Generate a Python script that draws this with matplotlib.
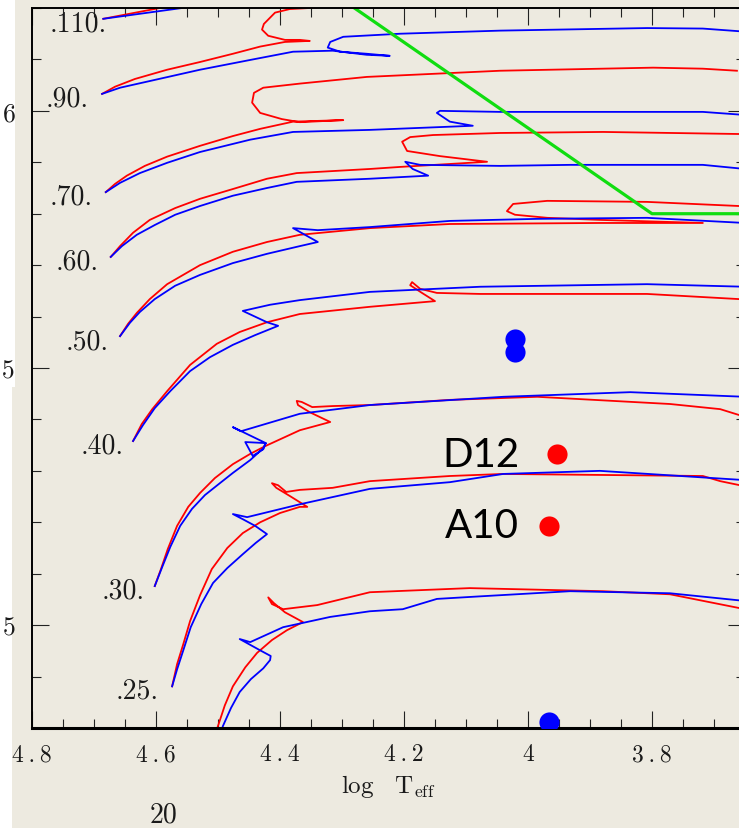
import matplotlib
matplotlib.use('Agg')
import matplotlib.pyplot as plt
from matplotlib.patches import Rectangle
from matplotlib.ticker import MultipleLocator

# initial-mass labels at the ZAMS end of each track
mass_labels = ['.110.', '.90.', '.70.', '.60.', '.50.', '.40.', '.30.', '.25.']
label_T = [4.679, 4.708, 4.702, 4.692, 4.677, 4.653, 4.619, 4.595]
label_L = [6.156, 6.010, 5.819, 5.693, 5.537, 5.335, 5.054, 4.860]

# red tracks (log Teff, log L)
red110_T = [4.685, 4.594, 4.55]
red110_L = [6.179, 6.200, 6.207]
red90_T = [4.687, 4.666, 4.634, 4.582, 4.529, 4.476, 4.432, 4.392, 4.352, 4.368, 4.392, 4.419, 4.429, 4.426, 4.408, 4.384, 4.352, 4.303]
red90_L = [6.033, 6.047, 6.062, 6.080, 6.095, 6.111, 6.125, 6.134, 6.136, 6.138, 6.138, 6.146, 6.158, 6.169, 6.191, 6.198, 6.200, 6.206]
red70_T = [4.681, 4.666, 4.647, 4.618, 4.582, 4.529, 4.476, 4.432, 4.379, 4.298, 4.368, 4.397, 4.432, 4.445, 4.442, 4.427, 4.368, 4.260, 4.045, 3.798, 3.718, 3.663]
red70_L = [5.842, 5.858, 5.874, 5.893, 5.911, 5.932, 5.951, 5.965, 5.979, 5.982, 5.978, 5.984, 5.996, 6.016, 6.035, 6.045, 6.053, 6.066, 6.078, 6.084, 6.082, 6.078]
red60_T = [4.673, 4.658, 4.637, 4.610, 4.569, 4.529, 4.476, 4.421, 4.373, 4.255, 4.206, 4.066, 4.142, 4.195, 4.203, 4.190, 4.153, 4.045, 3.879, 3.660]
red60_L = [5.716, 5.737, 5.763, 5.788, 5.811, 5.829, 5.848, 5.868, 5.879, 5.887, 5.891, 5.901, 5.912, 5.922, 5.940, 5.949, 5.953, 5.957, 5.959, 5.955]
red50_T = [4.658, 4.645, 4.631, 4.610, 4.582, 4.529, 4.476, 4.421, 4.368, 4.255, 4.126, 3.884, 3.718, 3.884, 3.969, 4.021, 4.034, 4.024, 3.969, 3.808, 3.660]
red50_L = [5.562, 5.586, 5.607, 5.634, 5.663, 5.700, 5.726, 5.745, 5.759, 5.772, 5.780, 5.782, 5.782, 5.788, 5.792, 5.798, 5.805, 5.819, 5.825, 5.823, 5.815]
red40_T = [4.637, 4.623, 4.606, 4.582, 4.545, 4.502, 4.465, 4.421, 4.368, 4.255, 4.150, 4.171, 4.190, 4.187, 4.174, 4.147, 4.077, 3.808, 3.660, 3.650]
red40_L = [5.358, 5.391, 5.420, 5.455, 5.506, 5.547, 5.570, 5.589, 5.605, 5.619, 5.630, 5.646, 5.661, 5.667, 5.654, 5.646, 5.644, 5.644, 5.634, 5.632]
red30_T = [4.602, 4.592, 4.581, 4.566, 4.548, 4.529, 4.505, 4.476, 4.448, 4.424, 4.368, 4.319, 4.352, 4.371, 4.373, 4.365, 4.348, 4.315, 4.255, 4.126, 3.985, 3.771, 3.690, 3.650]
red30_L = [5.076, 5.109, 5.148, 5.193, 5.230, 5.257, 5.286, 5.313, 5.333, 5.348, 5.379, 5.395, 5.414, 5.428, 5.436, 5.434, 5.424, 5.426, 5.428, 5.438, 5.444, 5.430, 5.420, 5.405]
red25_T = [4.574, 4.566, 4.556, 4.545, 4.529, 4.510, 4.485, 4.460, 4.432, 4.400, 4.368, 4.356, 4.384, 4.406, 4.413, 4.403, 4.390, 4.368, 4.315, 4.255, 4.126, 4.040, 3.718, 3.690, 3.650]
red25_L = [4.881, 4.924, 4.963, 5.008, 5.058, 5.109, 5.150, 5.179, 5.200, 5.218, 5.230, 5.230, 5.251, 5.267, 5.276, 5.272, 5.259, 5.263, 5.267, 5.280, 5.290, 5.294, 5.290, 5.280, 5.270]
red20_T = [4.510, 4.500, 4.489, 4.476, 4.456, 4.437, 4.413, 4.389, 4.363, 4.392, 4.410, 4.419, 4.413, 4.395, 4.340, 4.255, 4.094, 3.879, 3.771, 3.650]
red20_L = [4.768, 4.804, 4.844, 4.881, 4.918, 4.946, 4.971, 4.990, 5.006, 5.025, 5.043, 5.054, 5.041, 5.031, 5.039, 5.064, 5.072, 5.066, 5.060, 5.031]

# blue tracks
blue110_T = [4.685, 4.558, 4.52]
blue110_L = [6.179, 6.200, 6.206]
blue90_T = [4.687, 4.658, 4.610, 4.529, 4.448, 4.379, 4.315, 4.260, 4.223, 4.260, 4.303, 4.323, 4.319, 4.298, 4.206, 4.045, 3.808, 3.718, 3.650]
blue90_L = [6.033, 6.045, 6.058, 6.080, 6.099, 6.115, 6.117, 6.109, 6.107, 6.111, 6.115, 6.123, 6.134, 6.144, 6.150, 6.156, 6.161, 6.160, 6.154]
blue70_T = [4.681, 4.658, 4.626, 4.582, 4.529, 4.448, 4.379, 4.255, 4.089, 4.126, 4.147, 4.142, 4.045, 3.879, 3.718, 3.650]
blue70_L = [5.842, 5.860, 5.879, 5.899, 5.920, 5.944, 5.959, 5.963, 5.971, 5.979, 5.996, 6.000, 5.998, 5.998, 5.998, 5.992]
blue60_T = [4.673, 4.655, 4.631, 4.602, 4.569, 4.529, 4.476, 4.421, 4.373, 4.255, 4.161, 4.186, 4.198, 4.174, 4.045, 3.932, 3.718, 3.650]
blue60_L = [5.716, 5.737, 5.759, 5.778, 5.798, 5.815, 5.835, 5.850, 5.862, 5.868, 5.874, 5.887, 5.901, 5.895, 5.893, 5.895, 5.895, 5.887]
blue50_T = [4.658, 4.642, 4.626, 4.602, 4.569, 4.529, 4.476, 4.421, 4.368, 4.339, 4.379, 4.339, 4.255, 4.126, 3.985, 3.808, 3.650]
blue50_L = [5.562, 5.588, 5.609, 5.634, 5.660, 5.681, 5.704, 5.722, 5.737, 5.745, 5.772, 5.768, 5.774, 5.786, 5.790, 5.792, 5.782]
blue40_T = [4.637, 4.621, 4.602, 4.577, 4.545, 4.513, 4.476, 4.440, 4.403, 4.421, 4.460, 4.416, 4.368, 4.255, 4.077, 3.808, 3.650]
blue40_L = [5.358, 5.389, 5.422, 5.455, 5.494, 5.521, 5.545, 5.564, 5.582, 5.589, 5.611, 5.623, 5.632, 5.648, 5.658, 5.663, 5.658]
blue30_T = [4.602, 4.590, 4.577, 4.561, 4.542, 4.521, 4.497, 4.476, 4.448, 4.427, 4.423, 4.456, 4.444, 4.427, 4.423, 4.476, 4.463, 4.368, 4.255, 4.040, 3.835, 3.650]
blue30_L = [5.076, 5.113, 5.152, 5.193, 5.226, 5.253, 5.276, 5.296, 5.321, 5.344, 5.354, 5.356, 5.329, 5.342, 5.354, 5.385, 5.377, 5.411, 5.428, 5.444, 5.453, 5.444]
blue25_T = [4.574, 4.566, 4.556, 4.544, 4.527, 4.508, 4.485, 4.460, 4.439, 4.421, 4.440, 4.460, 4.476, 4.453, 4.368, 4.255, 4.126, 4.040, 3.884, 3.650]
blue25_L = [4.881, 4.914, 4.951, 4.996, 5.041, 5.082, 5.111, 5.138, 5.160, 5.177, 5.193, 5.206, 5.216, 5.210, 5.235, 5.265, 5.278, 5.294, 5.300, 5.282]
blue20_T = [4.502, 4.492, 4.479, 4.465, 4.447, 4.427, 4.416, 4.415, 4.432, 4.465, 4.448, 4.395, 4.319, 4.255, 4.202, 4.147, 4.077, 3.932, 3.771, 3.650]
blue20_L = [4.768, 4.804, 4.839, 4.870, 4.895, 4.916, 4.932, 4.940, 4.951, 4.973, 4.967, 4.996, 5.016, 5.027, 5.031, 5.051, 5.056, 5.066, 5.062, 5.047]

# green limit line
hd_T = [4.4, 3.8, 3.5]
hd_L = [6.3, 5.8, 5.8]

# observed stars
blue_star_T = [4.021, 4.021, 3.966]
blue_star_L = [5.556, 5.531, 4.811]
red_star_T = [3.953, 3.966]
red_star_L = [5.333, 5.193]
red_star_names = ['D12', 'A10']
name_T = [4.014, 4.014]
name_L = [5.309, 5.171]

xticks = [4.8, 4.6, 4.4, 4.2, 4.0, 3.8]
xtick_labels = ['4.8', '4.6', '4.4', '4.2', '4', '3.8']
yticks = [5.0, 5.5, 6.0]
ytick_labels = ['5', '5.5', '6']

bg = '#edeae0'
ink = '#1a1a1a'
serif = ['cmr10', 'DejaVu Serif']
plt.rcParams['mathtext.fontset'] = 'cm'
plt.rcParams['axes.formatter.use_mathtext'] = True

fig = plt.figure(figsize=(7.39, 8.29), dpi=100, facecolor=bg)
fig.patches.append(Rectangle((0, 441 / 829), 15 / 739, 388 / 829, transform=fig.transFigure,
                             facecolor='white', edgecolor='none', zorder=-5))
fig.patches.append(Rectangle((0, 0), 12 / 739, 441 / 829, transform=fig.transFigure,
                             facecolor='white', edgecolor='none', zorder=-5))

ax = fig.add_axes([32 / 739, 100 / 829, 713 / 739, 720 / 829])
ax.set_facecolor(bg)

reds = [(red110_T, red110_L), (red90_T, red90_L), (red70_T, red70_L), (red60_T, red60_L),
        (red50_T, red50_L), (red40_T, red40_L), (red30_T, red30_L), (red25_T, red25_L),
        (red20_T, red20_L)]
blues = [(blue110_T, blue110_L), (blue90_T, blue90_L), (blue70_T, blue70_L), (blue60_T, blue60_L),
         (blue50_T, blue50_L), (blue40_T, blue40_L), (blue30_T, blue30_L), (blue25_T, blue25_L),
         (blue20_T, blue20_L)]
for (rt, rl), (bt, bl) in zip(reds, blues):
    ax.plot(rt, rl, color='#ff0000', lw=1.3, solid_joinstyle='round')
    ax.plot(bt, bl, color='#0000ff', lw=1.3, solid_joinstyle='round')

ax.plot(hd_T, hd_L, color='#10dd10', lw=2.3)

ax.plot(blue_star_T, blue_star_L, 'o', color='#0000ff', ms=14.5, mec='none', zorder=5)
ax.plot(red_star_T, red_star_L, 'o', color='#ff0000', ms=14.5, mec='none', zorder=5)
for name, t, l in zip(red_star_names, name_T, name_L):
    ax.text(t, l, name, ha='right', va='baseline', fontsize=29, family='Lato', color='black')

for lab, t, l in zip(mass_labels, label_T, label_L):
    ax.text(t, l, lab, ha='right', va='baseline', fontsize=20, family=serif, color=ink)

ax.set_xlim(4.8, 3.65)
ax.set_ylim(4.8, 6.2)
ax.set_xticks(xticks)
ax.set_xticklabels([s.replace('.', '\u2009.\u2009') for s in xtick_labels],
                   fontsize=17, family=serif, color=ink)
ax.set_yticks(yticks)
ax.set_yticklabels(ytick_labels, fontsize=18.5, family=serif, color=ink)
ax.xaxis.set_minor_locator(MultipleLocator(0.05))
ax.yaxis.set_minor_locator(MultipleLocator(0.1))
ax.tick_params(which='both', direction='in', top=True, right=True, width=0.8, color='#222222')
ax.tick_params(which='major', length=12.5)
ax.tick_params(which='minor', length=6.5)
ax.tick_params(axis='x', pad=11)
ax.tick_params(axis='y', pad=12)
for side in ['left', 'top', 'right']:
    ax.spines[side].set_linewidth(1.4)
ax.spines['bottom'].set_linewidth(2.2)

fig.text(388 / 739, 36 / 829, r'$\mathrm{log\ \ \ T_{eff}}$', ha='center', va='baseline',
         fontsize=18, color=ink)
fig.text(177 / 739, 6 / 829, '20', ha='right', va='baseline', fontsize=20, family=serif,
         color=ink)

fig.savefig('out.png', dpi=100, facecolor=bg)
